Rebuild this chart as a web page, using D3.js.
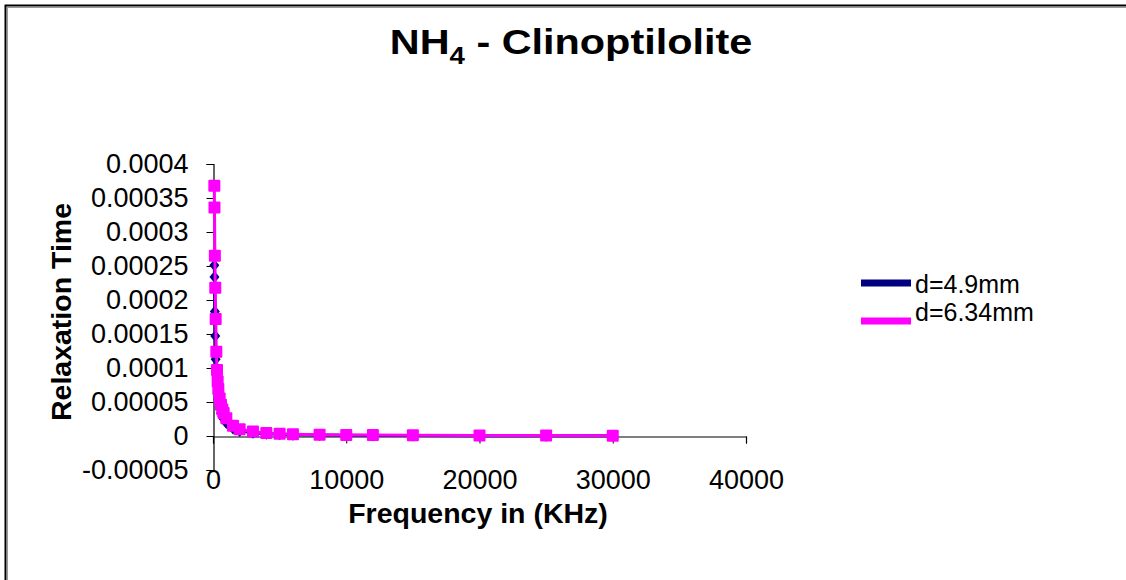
<!DOCTYPE html>
<html><head><meta charset="utf-8">
<script src="https://cdn.jsdelivr.net/npm/d3@7/dist/d3.min.js"></script>
<style>html,body{margin:0;padding:0;background:#fff;overflow:hidden}svg{display:block;font-family:"Liberation Sans",Arial,sans-serif}</style>
</head><body>
<script>
const frequency = [100,110,140,170,200,250,300,350,400,500,600,700,800,1000,1500,2000,3000,4000,5000,6000,8000,10000,12000,15000,20000,25000,30000];
const tauD49 = [2.51e-4,2.34e-4,1.83e-4,1.47e-4,1.13e-4,9.2e-5,7.4e-5,6.3e-5,5.4e-5,4.2e-5,3.4e-5,2.9e-5,2.5e-5,1.9e-5,1.1e-5,7.5e-6,4.6e-6,3.2e-6,2.4e-6,1.9e-6,1.4e-6,1.1e-6,9e-7,7e-7,5e-7,4e-7,3e-7];
const tauD634 = [3.68e-4,3.36e-4,2.65e-4,2.18e-4,1.72e-4,1.24e-4,9.7e-5,8.0e-5,6.9e-5,5.5e-5,4.6e-5,3.9e-5,3.4e-5,2.6e-5,1.5e-5,1.0e-5,6.5e-6,4.5e-6,3.3e-6,2.7e-6,2.0e-6,1.6e-6,1.3e-6,1.0e-6,8e-7,6e-7,5e-7];
const seriesNames = ["d=4.9mm","d=6.34mm"];
const xTicks = [0,10000,20000,30000,40000];
const yTicks = [0.0004,0.00035,0.0003,0.00025,0.0002,0.00015,0.0001,0.00005,0,-0.00005];
const yTickLabels = ["0.0004","0.00035","0.0003","0.00025","0.0002","0.00015","0.0001","0.00005","0","-0.00005"];

const W = 1126, H = 580;
const FF = "Liberation Sans, Arial, sans-serif";
const svg = d3.select("body").append("svg").attr("width",W).attr("height",H);
svg.append("rect").attr("width",W).attr("height",H).attr("fill","#fff");
// chart frame (extends beyond window on right/bottom)
svg.append("rect").attr("x",7.5).attr("y",7.5).attr("width",1300).attr("height",800).attr("fill","none").attr("stroke","#999").attr("stroke-width",1);
svg.append("rect").attr("x",5.5).attr("y",5.5).attr("width",1300).attr("height",800).attr("fill","none").attr("stroke","#000").attr("stroke-width",2);

const x = d3.scaleLinear().domain([0,40000]).range([213,746]);
const y = d3.scaleLinear().domain([-0.00005,0.0004]).range([470,164]);

// title
const t = svg.append("text").attr("transform","translate(571,54) scale(1.15,1)").attr("text-anchor","middle")
  .attr("font-weight","bold").attr("font-size",36).attr("fill","#000");
t.append("tspan").text("NH");
t.append("tspan").attr("font-size",24).attr("dy",10).text("4");
t.append("tspan").attr("dy",-10).text(" - Clinoptilolite");

// y axis
const yAxis = d3.axisLeft(y).tickValues(yTicks).tickSize(7).tickPadding(18)
  .tickFormat((d,i)=>yTickLabels[i]);
const gy = svg.append("g").attr("transform","translate(213.5,0)").call(yAxis);
gy.select(".domain").attr("stroke","#000").attr("stroke-width",1.2);
gy.selectAll(".tick line").attr("stroke","#000");
gy.selectAll("text").attr("font-size",27).attr("fill","#000").attr("font-family",FF);

// x axis at y=0, labels at bottom
const xAxis = d3.axisBottom(x).tickValues(xTicks).tickSize(7).tickFormat(d3.format("d"));
const gx = svg.append("g").attr("transform",`translate(0,${y(0)+0.5})`).call(xAxis);
gx.select(".domain").attr("stroke","#000").attr("stroke-width",1.2);
gx.selectAll(".tick line").attr("stroke","#000");
gx.selectAll("text").attr("font-size",27).attr("fill","#000").attr("font-family",FF)
  .attr("y", y(-0.00005) - y(0) + 18).attr("dy","0");

// axis titles
svg.append("text").attr("x",478).attr("y",523).attr("text-anchor","middle").attr("font-weight","bold")
  .attr("font-size",28.5).text("Frequency in (KHz)");
svg.append("text").attr("transform","translate(71,312) rotate(-90)").attr("text-anchor","middle").attr("font-weight","bold")
  .attr("font-size",28.5).text("Relaxation Time");

// series
const series = [
  {name:seriesNames[0], vals:tauD49, color:"#000080"},
  {name:seriesNames[1], vals:tauD634, color:"#FF00FF"}
];
const line = d3.line().x(d=>x(d[0])).y(d=>y(d[1]));
series.forEach((s,si)=>{
  const pts = frequency.map((f,i)=>[f,s.vals[i]]);
  svg.append("path").datum(pts).attr("d",line).attr("fill","none").attr("stroke",s.color).attr("stroke-width",3);
  const g = svg.append("g");
  if(si===0){
    g.selectAll("path").data(pts).join("path")
      .attr("d",d=>`M${x(d[0])},${y(d[1])-6}l5,6l-5,6l-5,-6z`).attr("fill",s.color);
  } else {
    g.selectAll("rect").data(pts).join("rect")
      .attr("x",d=>x(d[0])-6).attr("y",d=>y(d[1])-6).attr("width",12).attr("height",12).attr("rx",1).attr("fill",s.color);
  }
});

// legend
const leg = [{c:"#000080",ly:283,ty:284},{c:"#FF00FF",ly:321,ty:312}];
leg.forEach((l,i)=>{
  svg.append("line").attr("x1",861).attr("x2",911).attr("y1",l.ly).attr("y2",l.ly).attr("stroke",l.c).attr("stroke-width",7);
  svg.append("text").attr("x",915).attr("y",l.ty).attr("dy","0.35em").attr("font-size",25).text(seriesNames[i]);
});
</script>
</body></html>
